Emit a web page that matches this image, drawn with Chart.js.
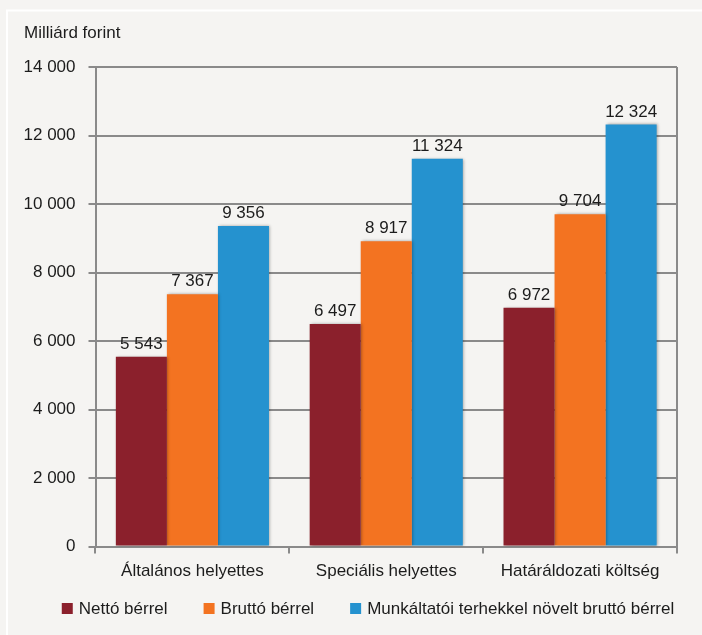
<!DOCTYPE html>
<html>
<head>
<meta charset="utf-8">
<script src="https://cdn.jsdelivr.net/npm/chart.js@4.4.0/dist/chart.umd.min.js"></script>
<style>
	html, body { margin: 0; padding: 0; background: #f5f4f2; }
	#wrap { width: 702px; height: 635px; }
</style>
</head>
<body>
<div id="wrap"><canvas id="chart" width="702" height="635"></canvas></div>
<script>
const categories = ["Általános helyettes", "Speciális helyettes", "Határáldozati költség"];
const seriesNames = ["Nettó bérrel", "Bruttó bérrel", "Munkáltatói terhekkel növelt bruttó bérrel"];
const netto = [5543, 6497, 6972];
const brutto = [7367, 8917, 9704];
const munkaltatoi = [9356, 11324, 12324];
const colors = ["#8b202c", "#f37321", "#2592cf"];
const unitLabel = "Milliárd forint";

const FONT = "'Liberation Sans', Arial, sans-serif";
const TEXT = "#1c1c1c";
const LINE = "#8a8a8a";

const fmt = function(v) {
	return String(v).replace(/\B(?=(\d{3})+(?!\d))/g, " ");
}

// background, white frame, unit label
const backdrop = {
	id: "backdrop",
	beforeDraw(chart) {
		const ctx = chart.ctx;
		ctx.save();
		ctx.fillStyle = "#f5f4f2";
		ctx.fillRect(0, 0, chart.width, chart.height);
		ctx.strokeStyle = "#ffffff";
		ctx.lineWidth = 2;
		ctx.beginPath();
		ctx.moveTo(7, chart.height);
		ctx.lineTo(7, 10.5);
		ctx.lineTo(chart.width, 10.5);
		ctx.stroke();
		ctx.fillStyle = TEXT;
		ctx.font = "17px " + FONT;
		ctx.textBaseline = "middle";
		ctx.fillText(unitLabel, 24, 33);
		ctx.restore();
	},
	beforeDatasetsDraw(chart) {
		chart.ctx.save();
		chart.ctx.shadowColor = "rgba(0,0,0,0.35)";
		chart.ctx.shadowBlur = 3;
		chart.ctx.shadowOffsetX = 1;
	},
	afterDatasetsDraw(chart) {
		const ctx = chart.ctx;
		ctx.restore();
		const a = chart.chartArea;
		ctx.save();
		ctx.strokeStyle = LINE;
		ctx.lineWidth = 2;
		ctx.beginPath();
		ctx.moveTo(a.right, a.top);
		ctx.lineTo(a.right, a.bottom);
		ctx.stroke();
		// value labels
		ctx.fillStyle = TEXT;
		ctx.font = "17px " + FONT;
		ctx.textAlign = "center";
		ctx.textBaseline = "bottom";
		chart.data.datasets.forEach((ds, i) => {
			chart.getDatasetMeta(i).data.forEach((bar, j) => {
				ctx.fillText(fmt(ds.data[j]), bar.x, bar.y - 4);
			});
		});
		ctx.restore();
	}
};

// legend drawn along the bottom
const bottomLegend = {
	id: "bottomLegend",
	afterDraw(chart) {
		const ctx = chart.ctx;
		ctx.save();
		ctx.font = "17px " + FONT;
		const box = 11, gapText = 6, gapItem = 36;
		const items = chart.data.datasets.map(ds => ({label: ds.label, color: ds.backgroundColor, w: ctx.measureText(ds.label).width}));
		let total = items.reduce((s, it) => s + box + gapText + it.w, 0) + gapItem * (items.length - 1);
		let x = 368 - total / 2;
		const y = 608;
		ctx.textBaseline = "middle";
		for (let it of items) {
			ctx.fillStyle = it.color;
			ctx.fillRect(x, y - 5, box, box);
			ctx.fillStyle = TEXT;
			ctx.fillText(it.label, x + box + gapText, y + 1);
			x += box + gapText + it.w + gapItem;
		}
		ctx.restore();
	}
};

const datasets = [netto, brutto, munkaltatoi].map((d, i) => ({
	label: seriesNames[i],
	data: d,
	backgroundColor: colors[i],
	borderWidth: 0,
	categoryPercentage: 0.79,
	barPercentage: 1
}));

new Chart(document.getElementById("chart").getContext("2d"), {
	type: "bar",
	data: {labels: categories, datasets: datasets},
	plugins: [backdrop, bottomLegend],
	options: {
		responsive: false,
		animation: false,
		layout: {padding: {top: 67, right: 25, bottom: 45, left: 0}},
		plugins: {legend: {display: false}, tooltip: {enabled: false}},
		scales: {
			x: {
				grid: {display: true, drawOnChartArea: false, drawTicks: true, tickLength: 7, color: LINE, lineWidth: 2, offset: true},
				border: {display: true, color: LINE, width: 2},
				ticks: {color: TEXT, font: {family: FONT, size: 17}, padding: 8, maxRotation: 0}
			},
			y: {
				min: 0,
				max: 14000,
				afterFit(scale) { scale.width = 95.5; },
				grid: {color: LINE, lineWidth: 2, tickLength: 7, drawTicks: true},
				border: {display: true, color: LINE, width: 2},
				ticks: {stepSize: 2000, color: TEXT, font: {family: FONT, size: 17}, padding: 13, callback: v => fmt(v)}
			}
		}
	}
});
</script>
</body>
</html>
